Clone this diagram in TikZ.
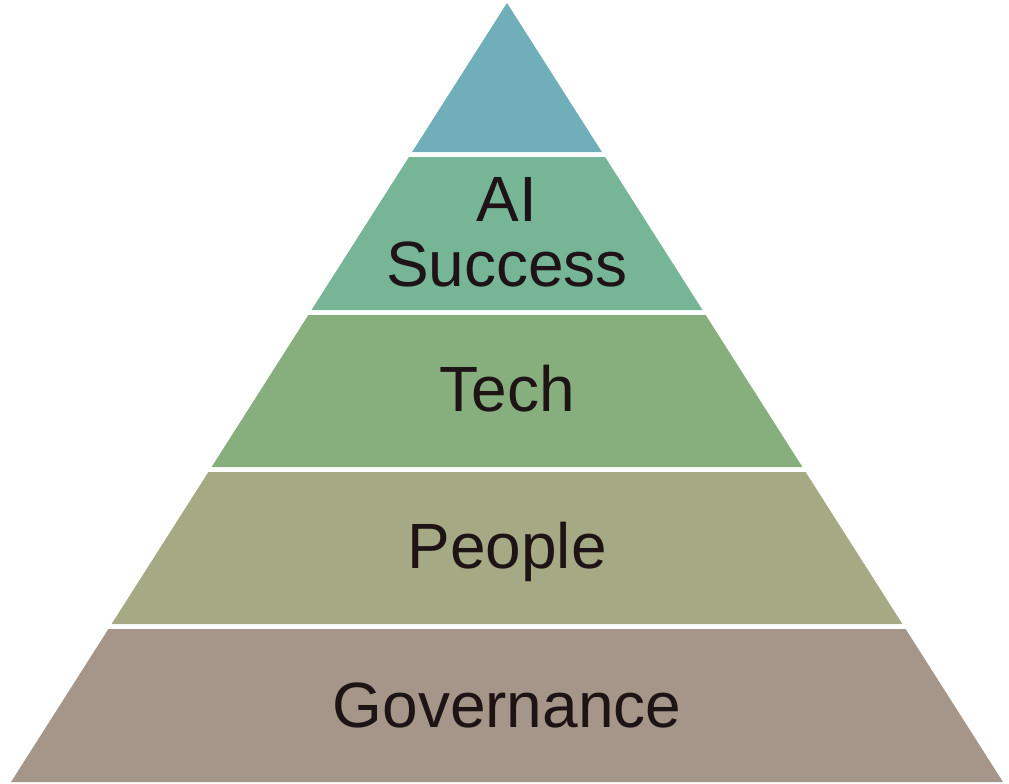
\documentclass[tikz,border=0pt]{standalone}
\usepackage{fontspec}
\setmainfont{Liberation Sans}
\usepackage{tikz}
\usetikzlibrary{positioning, calc}

\definecolor{topteal}{RGB}{112,174,185}
\definecolor{aigreen}{RGB}{118,181,149}
\definecolor{techgreen}{RGB}{135,175,125}
\definecolor{peopleolive}{RGB}{165,170,132}
\definecolor{govbrown}{RGB}{166,150,137}
\definecolor{labelink}{RGB}{30,20,22}

\tikzset{
  layer/.style={draw=none},
  label text/.style={text=labelink, font=\fontsize{64}{65}\selectfont, inner sep=0pt}
}

\begin{document}
\begin{tikzpicture}[x=1pt, y=-1pt]
\useasboundingbox (0,0) rectangle (1009,784);

% Layers of the pyramid
\fill[layer, topteal] (507,3) -- (601.9,152) -- (412.1,152) -- cycle;
\fill[layer, aigreen] (408.95,157) -- (605.05,157) -- (702.5,310) -- (311.5,310) -- cycle;
\fill[layer, techgreen] (308.35,315) -- (705.65,315) -- (802.4,467) -- (211.6,467) -- cycle;
\fill[layer, peopleolive] (208.4,472) -- (805.6,472) -- (902.4,624) -- (111.6,624) -- cycle;
\fill[layer, govbrown] (108.4,629) -- (905.6,629) -- (1003,782) -- (11,782) -- cycle;

% Labels
\node[label text, align=center] (success) at (507,232) {AI\\Success};
\node[label text, anchor=base] (tech) at (507,411) {Tech};
\node[label text, anchor=base] (people) at (507,568) {People};
\node[label text, anchor=base] (governance) at (507,727) {Governance};
\end{tikzpicture}
\end{document}
